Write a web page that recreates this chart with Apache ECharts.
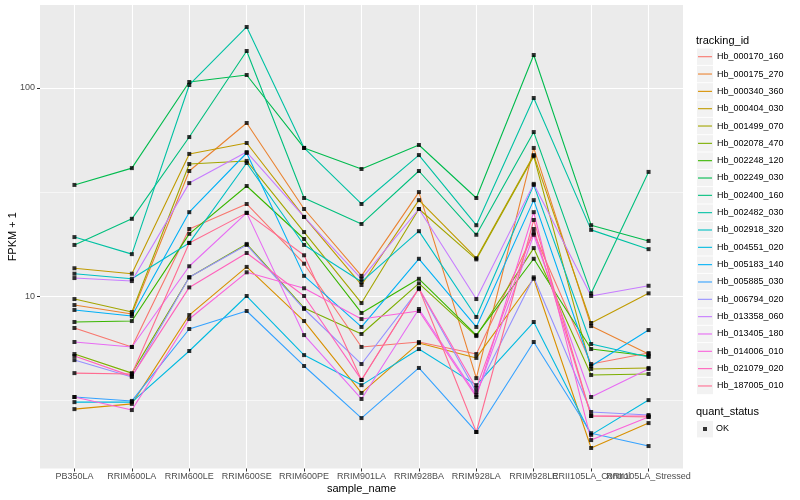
<!DOCTYPE html>
<html><head><meta charset="utf-8">
<script src="https://cdn.jsdelivr.net/npm/echarts@6.0.0/dist/echarts.min.js"></script>
<style>html,body{margin:0;padding:0;background:#fff}#c{width:800px;height:500px}</style>
</head><body><div id="c"></div>
<script>
const categories = ['PB350LA','RRIM600LA','RRIM600LE','RRIM600SE','RRIM600PE','RRIM901LA','RRIM928BA','RRIM928LA','RRIM928LE','RRII105LA_Control','RRII105LA_Stressed'];
const trackingIds = ['Hb_000170_160','Hb_000175_270','Hb_000340_360','Hb_000404_030','Hb_001499_070','Hb_002078_470','Hb_002248_120','Hb_002249_030','Hb_002400_160','Hb_002482_030','Hb_002918_320','Hb_004551_020','Hb_005183_140','Hb_005885_030','Hb_006794_020','Hb_013358_060','Hb_013405_180','Hb_014006_010','Hb_021079_020','Hb_187005_010'];
const colors = ['#F8766D','#EA8331','#D89000','#C09B00','#A3A500','#7CAE00','#39B600','#00BB4E','#00BF7D','#00C1A3','#00BFC4','#00BAE0','#00B0F6','#35A2FF','#9590FF','#C77CFF','#E76BF3','#FA62DB','#FF62BC','#FF6C91'];

const hb_000170_160 = [7.02, 5.69, 21.0, 27.7, 14.3, 5.69, 6.01, 5.26, 20.1, 4.71, 5.32];
const hb_000175_270 = [9.05, 8.19, 39.9, 67.9, 26.2, 12.5, 31.6, 4.03, 51.5, 7.17, 5.26];
const hb_000340_360 = [2.86, 3.03, 8.10, 13.8, 7.58, 3.42, 5.94, 5.04, 12.1, 1.86, 2.45];
const hb_000404_030 = [13.6, 12.8, 48.2, 54.4, 24.0, 11.3, 28.9, 15.2, 47.6, 7.42, 10.3];
const hb_001499_070 = [9.67, 8.38, 43.1, 44.6, 20.3, 9.25, 26.2, 15.0, 47.0, 4.46, 4.51];
const hb_002078_470 = [5.26, 4.26, 12.3, 17.8, 8.76, 6.57, 11.5, 6.42, 17.0, 4.17, 4.22];
const hb_002248_120 = [7.50, 7.58, 19.9, 33.8, 18.8, 8.29, 12.1, 6.49, 15.1, 5.56, 5.15];
const hb_002249_030 = [34.2, 41.2, 106.9, 115.5, 51.5, 40.8, 53.2, 29.6, 144.1, 21.9, 18.4];
const hb_002400_160 = [17.6, 23.5, 58.1, 150.6, 29.6, 22.2, 39.9, 19.7, 61.4, 10.3, 39.5];
const hb_002482_030 = [19.2, 15.9, 103.4, 196.5, 51.5, 27.7, 47.6, 21.9, 89.5, 20.8, 16.8];
const hb_002918_320 = [12.8, 12.1, 18.0, 43.6, 17.6, 11.7, 20.5, 7.93, 34.2, 5.88, 5.09];
const hb_004551_020 = [3.09, 3.09, 5.44, 10.0, 5.20, 3.73, 5.56, 3.73, 7.50, 2.15, 3.16];
const hb_005183_140 = [8.57, 8.01, 25.3, 48.7, 12.5, 7.10, 15.1, 7.10, 28.9, 4.61, 6.86];
const hb_005885_030 = [3.27, 3.13, 6.94, 8.47, 4.61, 2.59, 4.51, 2.22, 6.01, 2.19, 1.90];
const hb_006794_020 = [4.92, 4.08, 12.3, 17.6, 8.66, 4.71, 10.8, 3.46, 12.3, 2.77, 2.68];
const hb_013358_060 = [12.2, 11.8, 34.9, 49.2, 24.0, 12.1, 26.2, 9.67, 34.6, 10.0, 11.2];
const hb_013405_180 = [6.01, 5.69, 13.9, 25.1, 6.49, 3.20, 8.66, 3.34, 19.7, 3.27, 4.46];
const hb_014006_010 = [3.27, 2.83, 7.75, 13.0, 10.9, 7.75, 8.47, 3.27, 25.3, 2.03, 2.62];
const hb_021079_020 = [5.15, 4.12, 11.0, 16.1, 10.0, 3.95, 10.9, 3.61, 21.0, 2.65, 2.65];
const hb_187005_010 = [4.26, 4.22, 18.0, 25.1, 15.7, 3.95, 10.9, 2.22, 23.2, 2.65, 2.62];

const yTicks = [10, 100];
const yMinorTicks = [3.1623, 31.623];
const quantStatus = ['OK'];

const seriesValues = [hb_000170_160, hb_000175_270, hb_000340_360, hb_000404_030, hb_001499_070, hb_002078_470, hb_002248_120, hb_002249_030, hb_002400_160, hb_002482_030, hb_002918_320, hb_004551_020, hb_005183_140, hb_005885_030, hb_006794_020, hb_013358_060, hb_013405_180, hb_014006_010, hb_021079_020, hb_187005_010];

const FONT = '"Liberation Sans", Arial, Helvetica, sans-serif';
const catIdx = categories.map((c, i) => i);
const evenIdx = catIdx.filter(i => i % 2 === 0);
const oddIdx = catIdx.filter(i => i % 2 === 1);

const lineSeries = trackingIds.map((id, k) => ({
  name: id, type: 'line', symbol: 'none', z: 2, silent: true, xAxisIndex: 0, yAxisIndex: 0,
  lineStyle: { color: colors[k], width: 1.1 }, itemStyle: { color: colors[k] },
  emphasis: { disabled: true },
  data: catIdx.map(i => [i, seriesValues[k][i]])
}));
const pts = [];
seriesValues.forEach(a => a.forEach((v, i) => pts.push([i, v])));
const scatter = { name: quantStatus[0], type: 'scatter', symbol: 'rect', symbolSize: 4, z: 3, silent: true,
  xAxisIndex: 0, yAxisIndex: 0,
  itemStyle: { color: '#000' }, emphasis: { disabled: true }, data: pts };

// legend key backgrounds
const pitch = 17.33, firstC = 56.7;
const graphics = trackingIds.map((id, k) => ({
  type: 'rect', z: 0, silent: true,
  shape: { x: 697, y: firstC + k * pitch - 8.2, width: 16, height: 16.4 },
  style: { fill: '#F2F2F2' }
}));
graphics.push({ type: 'rect', z: 0, silent: true, shape: { x: 697, y: 421, width: 16, height: 16.4 }, style: { fill: '#F2F2F2' } });

const labelStyle = { fontSize: 9, color: '#4D4D4D', margin: 4, hideOverlap: false, showMinLabel: true, showMaxLabel: true, fontFamily: FONT,
  formatter: v => categories[Math.round(v)] };

const chart = echarts.init(document.getElementById('c'));
chart.setOption({
  animation: false,
  backgroundColor: '#fff',
  textStyle: { fontFamily: FONT },
  title: [
    { text: 'tracking_id', left: 696, top: 35, padding: 0, textStyle: { fontSize: 11, fontWeight: 'normal', color: '#000', fontFamily: FONT } },
    { text: 'quant_status', left: 696, top: 406, padding: 0, textStyle: { fontSize: 11, fontWeight: 'normal', color: '#000', fontFamily: FONT } }
  ],
  graphic: graphics,
  legend: [
    { data: trackingIds, orient: 'vertical', left: 698, top: firstC - 7, padding: 0, icon: 'rect',
      itemWidth: 14, itemHeight: 1.1, itemGap: pitch - 14, selectedMode: false,
      textStyle: { fontSize: 9, color: '#000', fontFamily: FONT, lineHeight: 14 } },
    { data: quantStatus, orient: 'vertical', left: 703, top: 422, padding: 0, icon: 'rect',
      itemWidth: 4, itemHeight: 4, selectedMode: false, itemStyle: { color: '#000' },
      textStyle: { fontSize: 9, color: '#000', fontFamily: FONT, lineHeight: 14, padding: [0, 0, 0, 4] } }
  ],
  grid: { left: 40, right: 117, top: 5, bottom: 31.5, show: true, backgroundColor: '#EBEBEB', borderWidth: 0, containLabel: false, outerBoundsMode: 'none' },
  xAxis: [
    { type: 'value', min: -0.6, max: 10.6, position: 'bottom',
      name: 'sample_name', nameLocation: 'middle', nameGap: 15, nameMoveOverlap: false,
      nameTextStyle: { fontSize: 11, color: '#000', fontFamily: FONT },
      axisLine: { show: false, onZero: false },
      axisTick: { show: true, customValues: catIdx, length: 3, lineStyle: { color: '#333', width: 1 } },
      axisLabel: Object.assign({ customValues: evenIdx }, labelStyle),
      splitLine: { show: true, lineStyle: { color: '#fff', width: 1.1 } }
    },
    { type: 'value', min: -0.6, max: 10.6, position: 'bottom', offset: 0,
      axisLine: { show: false, onZero: false },
      axisTick: { show: false },
      axisLabel: Object.assign({ customValues: oddIdx }, labelStyle),
      splitLine: { show: false }
    }
  ],
  yAxis: [
    { type: 'log', logBase: 10, min: 1.482, max: 250.6, position: 'left',
      name: 'FPKM + 1', nameLocation: 'middle', nameGap: 22, nameMoveOverlap: false,
      nameTextStyle: { fontSize: 11, color: '#000', fontFamily: FONT },
      axisLine: { show: false, onZero: false },
      axisTick: { show: true, customValues: yTicks, length: 3, lineStyle: { color: '#333', width: 1 } },
      axisLabel: { customValues: yTicks, fontSize: 9, color: '#4D4D4D', margin: 5, fontFamily: FONT, showMinLabel: true, showMaxLabel: true },
      splitLine: { show: true, lineStyle: { color: '#fff', width: 1.1 } }
    },
    { type: 'log', logBase: 10, min: 1.482, max: 250.6, position: 'left',
      axisLine: { show: false, onZero: false },
      axisTick: { show: false, customValues: yMinorTicks },
      axisLabel: { show: false, customValues: yMinorTicks },
      splitLine: { show: true, lineStyle: { color: '#fff', width: 0.55 } }
    }
  ],
  series: lineSeries.concat([scatter])
});
</script></body></html>
